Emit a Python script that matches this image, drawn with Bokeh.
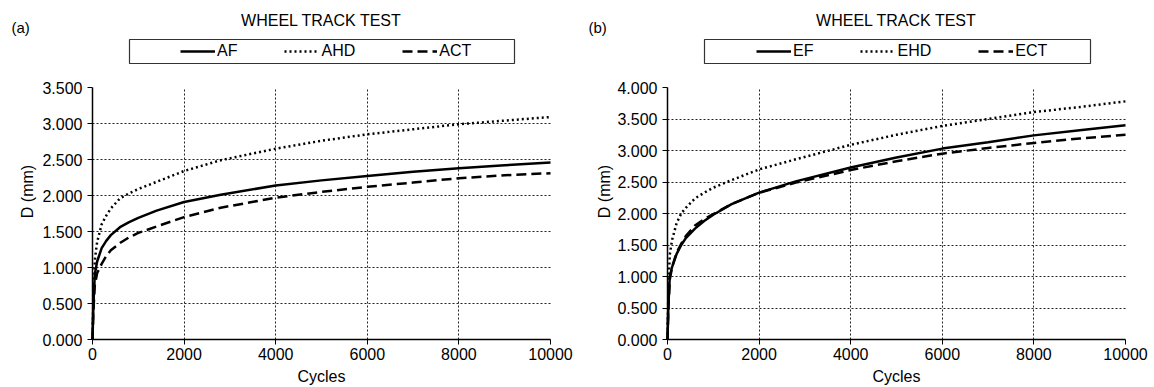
from bokeh.plotting import figure
from bokeh.models import (Range1d, FixedTicker, NumeralTickFormatter, Label,
                          Legend, LegendItem, BoxAnnotation)
from bokeh.layouts import row
from bokeh.embed import file_html
from bokeh.resources import INLINE

# ---------------- data ----------------
cycles = [0, 20, 50, 100, 200, 300, 400, 600, 800, 1000, 1400, 2000, 2800,
          4000, 5000, 6000, 7000, 8000, 9000, 10000]

af = [0, 0.50, 0.90, 1.08, 1.27, 1.37, 1.45, 1.56, 1.63, 1.69, 1.79, 1.91, 2.01,
      2.14, 2.21, 2.27, 2.33, 2.38, 2.42, 2.46]
ahd = [0, 0.60, 1.10, 1.35, 1.60, 1.72, 1.82, 1.96, 2.03, 2.09, 2.19, 2.34, 2.49,
       2.65, 2.76, 2.85, 2.92, 2.99, 3.04, 3.09]
act = [0, 0.40, 0.75, 0.92, 1.05, 1.16, 1.24, 1.34, 1.42, 1.48, 1.57, 1.70, 1.83,
       1.97, 2.05, 2.12, 2.18, 2.24, 2.28, 2.31]

ef = [0, 0.55, 1.00, 1.15, 1.36, 1.50, 1.61, 1.76, 1.88, 1.98, 2.15, 2.33, 2.51,
      2.73, 2.89, 3.03, 3.13, 3.24, 3.32, 3.40]
ehd = [0, 0.80, 1.35, 1.58, 1.85, 2.00, 2.09, 2.24, 2.33, 2.41, 2.53, 2.70, 2.86,
       3.09, 3.25, 3.39, 3.50, 3.61, 3.69, 3.78]
ect = [0, 0.50, 0.95, 1.15, 1.38, 1.52, 1.64, 1.81, 1.91, 1.99, 2.15, 2.33, 2.49,
       2.69, 2.83, 2.95, 3.04, 3.12, 3.19, 3.25]

names_a = ["AF", "AHD", "ACT"]
names_b = ["EF", "EHD", "ECT"]
x_ticks = [0, 2000, 4000, 6000, 8000, 10000]
y_ticks_a = [0.0, 0.5, 1.0, 1.5, 2.0, 2.5, 3.0, 3.5]
y_ticks_b = [0.0, 0.5, 1.0, 1.5, 2.0, 2.5, 3.0, 3.5, 4.0]
x_max = 10000
title_text = "WHEEL TRACK TEST"
x_label = "Cycles"
y_label = "D (mm)"

# ---------------- styling / layout ----------------
FONT = "Liberation Sans"
FS = "16px"
FIG_W, FIG_H = 577, 387
PLOT_W, PLOT_TOP, PLOT_BOTTOM = 458, 87, 339   # plot area in page pixels
STYLES = [dict(line_dash="solid"), dict(line_dash="2 3"), dict(line_dash="10 5")]


def make_panel(tag, names, series, y_ticks, page_left, frame_x0,
               box_l, box_r, item_start):
    ymax = y_ticks[-1]
    plot_h = PLOT_BOTTOM - PLOT_TOP

    def dx(px):
        return (px - frame_x0) / PLOT_W * x_max

    def dy(py):
        return (PLOT_BOTTOM - py) / plot_h * ymax

    p = figure(width=FIG_W, height=FIG_H,
               min_border=0, min_border_left=0, min_border_right=0,
               min_border_top=0, min_border_bottom=0,
               x_range=Range1d(dx(page_left), dx(page_left + FIG_W)),
               y_range=Range1d(dy(FIG_H), dy(0)),
               output_backend="svg", toolbar_location=None,
               outline_line_color=None)

    # grid
    p.xgrid.ticker = FixedTicker(ticks=x_ticks[1:-1])
    p.ygrid.ticker = FixedTicker(ticks=y_ticks[1:-1])
    p.xgrid.cross_bounds = (0, ymax)
    p.ygrid.cross_bounds = (0, x_max)
    for g in (p.xgrid, p.ygrid):
        g.grid_line_color = "#222222"
        g.grid_line_dash = "2 2"
        g.grid_line_width = 1

    # axes (pinned to the data origin)
    p.xaxis.fixed_location = 0
    p.yaxis.fixed_location = 0
    p.xaxis.bounds = (0, x_max)
    p.yaxis.bounds = (0, ymax)
    p.xaxis.ticker = FixedTicker(ticks=x_ticks)
    p.yaxis.ticker = FixedTicker(ticks=y_ticks)
    p.yaxis.formatter = NumeralTickFormatter(format="0.000")
    for ax in (p.xaxis, p.yaxis):
        ax.axis_line_color = "black"
        ax.axis_line_width = 1.5
        ax.major_tick_line_color = "black"
        ax.major_tick_in = 0
        ax.major_tick_out = 5
        ax.minor_tick_line_color = None
        ax.major_label_text_font = FONT
        ax.major_label_text_font_size = FS
        ax.major_label_text_color = "black"
    p.xaxis.major_label_standoff = 3
    p.yaxis.major_label_standoff = 5

    items = []
    for name, vals, st in zip(names, series, STYLES):
        r = p.line(cycles, vals, line_color="black", line_width=2.5, **st)
        items.append(LegendItem(label=name, renderers=[r]))

    # legend
    p.add_layout(BoxAnnotation(left=dx(box_l), right=dx(box_r),
                               bottom=dy(63), top=dy(39),
                               fill_alpha=0, line_color="#333333",
                               line_alpha=1.0, line_width=1.2))
    pad = 3
    leg = Legend(items=items, orientation="horizontal",
                 location=(item_start - page_left - pad, FIG_H - 63),
                 padding=pad, spacing=47, glyph_width=35, glyph_height=16,
                 label_height=16, label_standoff=2, margin=0,
                 label_text_font=FONT, label_text_font_size=FS,
                 label_text_color="black",
                 background_fill_alpha=0, border_line_alpha=0)
    p.add_layout(leg, "center")

    # texts
    p.add_layout(Label(x=dx(frame_x0 + PLOT_W / 2), y=dy(20), text=title_text,
                       text_align="center", text_baseline="middle",
                       text_font=FONT, text_font_size=FS, text_color="black"))
    p.add_layout(Label(x=dx(page_left + 11), y=dy(26.5), text=tag,
                       text_align="left", text_baseline="middle",
                       text_font=FONT, text_font_size="15px", text_color="black"))
    p.add_layout(Label(x=dx(frame_x0 + PLOT_W / 2), y=dy(376), text=x_label,
                       text_align="center", text_baseline="middle",
                       text_font=FONT, text_font_size=FS, text_color="black"))
    p.add_layout(Label(x=dx(page_left + 27), y=dy(191), text=y_label,
                       angle=1.5707963, text_align="center", text_baseline="middle",
                       text_font=FONT, text_font_size=FS, text_color="black"))
    return p


p1 = make_panel("(a)", names_a, [af, ahd, act], y_ticks_a, 0, 92,
                129, 514, 180)
p2 = make_panel("(b)", names_b, [ef, ehd, ect], y_ticks_b, FIG_W, 667,
                704, 1090, 756)

layout = row(p1, p2)
open("out.html", "w").write(file_html(layout, INLINE))
